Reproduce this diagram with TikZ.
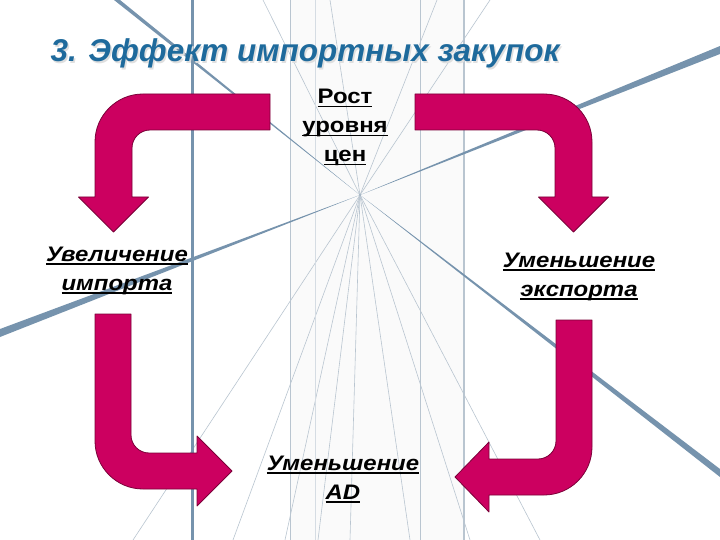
\documentclass[tikz,border=0pt]{standalone}
\usepackage{fontspec}
\usepackage{xcolor}
\newfontfamily\slidefont{Liberation Sans}
\newfontfamily\widefont[FakeStretch=1.14]{Liberation Sans}
\definecolor{tl}{HTML}{1E6A9C}
\definecolor{arw}{HTML}{CC0060}
\definecolor{arwln}{HTML}{7A0038}
\definecolor{ray}{HTML}{7693AD}
\definecolor{thn}{HTML}{B9C5D0}
\newcommand\ulined[1]{\setbox0\hbox{#1}\rlap{\rule[-3.5pt]{\wd0}{1.8pt}}\box0}

\begin{document}
\begin{tikzpicture}[x=1pt,y=-1pt]
            \tikzstyle{every node}=[font=\slidefont]
            \tikzstyle{lbl}=[font={\widefont\bfseries\itshape\fontsize{21}{29}\selectfont},align=center,inner sep=0pt,anchor=base]
            \tikzstyle{bentarrow}=[fill=arw,draw=arwln,line width=0.8pt,line join=round]
            \useasboundingbox (0,0) rectangle (720,540);
            \fill[white] (0,0) rectangle (720,540);
            % background
            \fill[gray!4] (290,0) rectangle (464,540);
            \coordinate (vp) at (360,195);
            \foreach \ex/\ey in {263/0,437/0,490/0,330/0,133/540,233/540,285/540,318/540,350/540,470/540,540/540,410/540}{
              \draw[thn,line width=0.6pt] (vp) -- (\ex,\ey);
            }
            \draw[ray,line width=3pt] (192,0) -- (192,540);
            \draw[thn,line width=1pt] (290,0) -- (290,540);
            \draw[thn!60,line width=0.8pt] (315,0) -- (315,540);
            \draw[thn,line width=1pt] (420,0) -- (420,540);
            \draw[thn,line width=1.5pt] (464,0) -- (464,540);
            \fill[ray] (vp) -- (720,46) -- (720,54) -- cycle;
            \fill[ray] (vp) -- (0,329) -- (0,337) -- cycle;
            \fill[ray] (vp) -- (720,469) -- (720,477) -- cycle;
            \fill[ray] (vp) -- (114,0) -- (120,0) -- cycle;
            % title
            \node[anchor=base west,text=gray!25,font={\slidefont\bfseries\itshape\fontsize{31.5}{36}\selectfont}] at (48.5,63.5) {3. Эффект импортных закупок};
            \node (title) [anchor=base west,text=tl,font={\slidefont\bfseries\itshape\fontsize{31.5}{36}\selectfont}] at (47,62) {3. Эффект импортных закупок};
            % arrows
            \draw[bentarrow] (270,94) -- (143,94) .. controls (116.5,94) and (95,115.5) .. (95,142) -- (95,197) -- (78.5,197) -- (113.5,232) -- (148.5,197) -- (132,197) -- (132,148) .. controls (132,138.1) and (140.1,130) .. (150,130) -- (270,130) -- cycle;
            \draw[bentarrow] (415,94) -- (544,94) .. controls (570.5,94) and (592,115.5) .. (592,142) -- (592,197) -- (608.5,197) -- (573.5,232) -- (538.5,197) -- (555,197) -- (555,148) .. controls (555,138.1) and (546.9,130) .. (537,130) -- (415,130) -- cycle;
            \draw[bentarrow] (95,314) -- (95,441) .. controls (95,467.5) and (116.5,489) .. (143,489) -- (197,489) -- (197,506) -- (232,471) -- (197,436) -- (197,453) -- (149,453) .. controls (139.1,453) and (131,444.9) .. (131,435) -- (131,314) -- cycle;
            \draw[bentarrow] (592,320) -- (592,447) .. controls (592,473.5) and (570.5,495) .. (544,495) -- (489,495) -- (489,512) -- (455,477) -- (489,442) -- (489,459) -- (538,459) .. controls (547.9,459) and (556,450.9) .. (556,441) -- (556,320) -- cycle;
            % labels
            \node (prices) [lbl,font={\widefont\bfseries\fontsize{21}{29}\selectfont}] at (345,162) {\ulined{Рост}\\\ulined{уровня}\\\ulined{цен}};
            \node (imports) [lbl] at (117,290) {\ulined{Увеличение}\\\ulined{импорта}};
            \node (exports) [lbl] at (579,296) {\ulined{Уменьшение}\\\ulined{экспорта}};
            \node (demand) [lbl] at (343,499) {\ulined{Уменьшение}\\\ulined{AD}};
          \end{tikzpicture}
\end{document}
